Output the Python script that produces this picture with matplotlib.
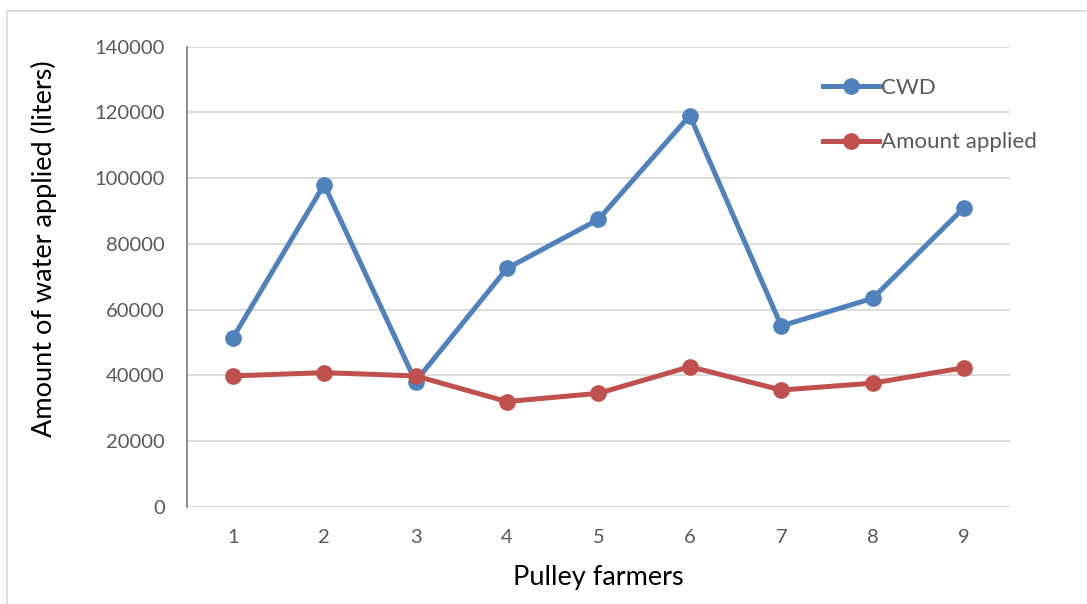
import matplotlib
matplotlib.use("Agg")
import matplotlib.pyplot as plt
from matplotlib.patches import Rectangle

plt.rcParams['font.family'] = ['Lato', 'DejaVu Sans']

farmers = [1, 2, 3, 4, 5, 6, 7, 8, 9]
cwd = [51250, 98000, 38100, 72500, 87400, 119000, 55000, 63400, 91000]
applied = [39800, 40800, 39800, 32000, 34500, 42600, 35500, 37600, 42300]
y_ticks = [0, 20000, 40000, 60000, 80000, 100000, 120000, 140000]

fig = plt.figure(figsize=(10.87, 6.04), dpi=100)
ax = fig.add_axes([0.172, 0.161, 0.757, 0.762])

# light frame around the chart area
fig.patches.append(Rectangle((7 / 1087, -0.01), 1.01, 1 - 11 / 604 + 0.01,
                             transform=fig.transFigure, fill=False,
                             edgecolor='#d9d9d9', linewidth=1.2))

ax.plot(farmers, cwd, color='#4f81bd', lw=3.6, marker='o', ms=11,
        label='CWD', solid_joinstyle='round')
ax.plot(farmers, applied, color='#c0504d', lw=3.6, marker='o', ms=11,
        label='Amount applied', solid_joinstyle='round')

ax.set_xlim(0.5, 9.5)
ax.set_ylim(0, 140000)
ax.set_xticks(farmers)
ax.set_yticks(y_ticks)
ax.yaxis.grid(True, color='#d9d9d9', lw=1.3)
ax.set_axisbelow(True)
for s in ['top', 'right', 'bottom']:
    ax.spines[s].set_visible(False)
ax.spines['left'].set_color('#868686')
ax.spines['left'].set_linewidth(1.3)
ax.tick_params(axis='y', length=0, labelsize=14.5, labelcolor='#595959', pad=16)
ax.tick_params(axis='x', length=0, labelsize=14.5, labelcolor='#595959', pad=16)

ax.set_xlabel('Pulley farmers', fontsize=19.5, labelpad=14)
ax.set_ylabel('Amount of water applied (liters)', fontsize=19.5)
ax.yaxis.set_label_coords(-0.158, 0.56)

ax.legend(loc='upper left', bbox_to_anchor=(0.749, 0.975), frameon=False,
          fontsize=16, labelcolor='#595959', handlelength=2.5,
          handletextpad=0.1, labelspacing=1.55)

fig.savefig('out.png', dpi=100)
